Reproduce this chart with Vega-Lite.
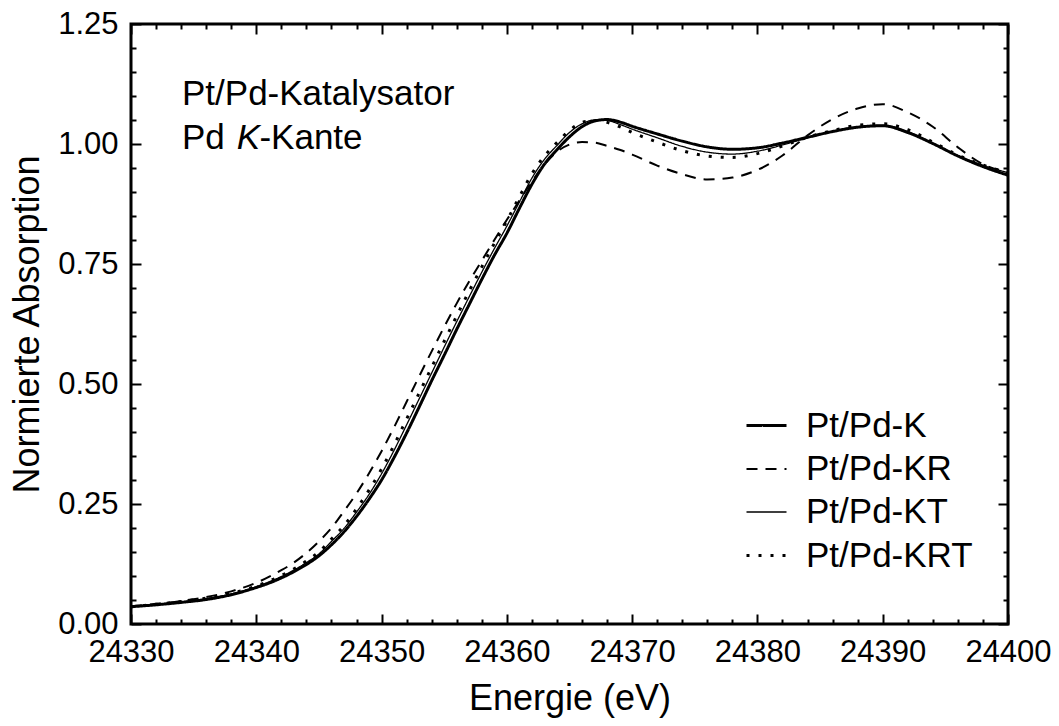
{
"$schema": "https://vega.github.io/schema/vega-lite/v6.json",
"width": 877, "height": 600,
"autosize": {"type": "none"},
"padding": {"left": 131, "top": 24, "right": 51, "bottom": 102},
"background": "white",
"config": {"view": {"stroke": "black", "strokeWidth": 3}, "font": "Liberation Sans"},
"datasets": {
"curves": [
{"s":"Pt/Pd-K","E":24330,"A":0.036},{"s":"Pt/Pd-K","E":24332,"A":0.040},{"s":"Pt/Pd-K","E":24334,"A":0.045},{"s":"Pt/Pd-K","E":24336,"A":0.051},{"s":"Pt/Pd-K","E":24338,"A":0.061},{"s":"Pt/Pd-K","E":24340,"A":0.076},{"s":"Pt/Pd-K","E":24341,"A":0.085},{"s":"Pt/Pd-K","E":24342,"A":0.096},{"s":"Pt/Pd-K","E":24343,"A":0.109},{"s":"Pt/Pd-K","E":24344,"A":0.124},{"s":"Pt/Pd-K","E":24345,"A":0.142},{"s":"Pt/Pd-K","E":24346,"A":0.165},{"s":"Pt/Pd-K","E":24347,"A":0.192},{"s":"Pt/Pd-K","E":24348,"A":0.224},{"s":"Pt/Pd-K","E":24349,"A":0.260},{"s":"Pt/Pd-K","E":24350,"A":0.300},{"s":"Pt/Pd-K","E":24351,"A":0.347},{"s":"Pt/Pd-K","E":24352,"A":0.398},{"s":"Pt/Pd-K","E":24353,"A":0.452},{"s":"Pt/Pd-K","E":24354,"A":0.507},{"s":"Pt/Pd-K","E":24355,"A":0.560},{"s":"Pt/Pd-K","E":24356,"A":0.614},{"s":"Pt/Pd-K","E":24357,"A":0.666},{"s":"Pt/Pd-K","E":24358,"A":0.718},{"s":"Pt/Pd-K","E":24359,"A":0.768},{"s":"Pt/Pd-K","E":24360,"A":0.814},{"s":"Pt/Pd-K","E":24361,"A":0.866},{"s":"Pt/Pd-K","E":24362,"A":0.916},{"s":"Pt/Pd-K","E":24363,"A":0.958},{"s":"Pt/Pd-K","E":24364,"A":0.988},{"s":"Pt/Pd-K","E":24365,"A":1.015},{"s":"Pt/Pd-K","E":24366,"A":1.036},{"s":"Pt/Pd-K","E":24367,"A":1.048},{"s":"Pt/Pd-K","E":24368,"A":1.051},{"s":"Pt/Pd-K","E":24369,"A":1.046},{"s":"Pt/Pd-K","E":24370,"A":1.037},{"s":"Pt/Pd-K","E":24372,"A":1.021},{"s":"Pt/Pd-K","E":24374,"A":1.006},{"s":"Pt/Pd-K","E":24376,"A":0.994},{"s":"Pt/Pd-K","E":24378,"A":0.989},{"s":"Pt/Pd-K","E":24380,"A":0.992},{"s":"Pt/Pd-K","E":24382,"A":1.002},{"s":"Pt/Pd-K","E":24384,"A":1.014},{"s":"Pt/Pd-K","E":24386,"A":1.026},{"s":"Pt/Pd-K","E":24388,"A":1.035},{"s":"Pt/Pd-K","E":24390,"A":1.038},{"s":"Pt/Pd-K","E":24392,"A":1.024},{"s":"Pt/Pd-K","E":24394,"A":1.001},{"s":"Pt/Pd-K","E":24396,"A":0.975},{"s":"Pt/Pd-K","E":24398,"A":0.953},{"s":"Pt/Pd-K","E":24400,"A":0.935},
{"s":"Pt/Pd-KR","E":24330,"A":0.037},{"s":"Pt/Pd-KR","E":24332,"A":0.042},{"s":"Pt/Pd-KR","E":24334,"A":0.048},{"s":"Pt/Pd-KR","E":24336,"A":0.056},{"s":"Pt/Pd-KR","E":24338,"A":0.068},{"s":"Pt/Pd-KR","E":24340,"A":0.086},{"s":"Pt/Pd-KR","E":24341,"A":0.098},{"s":"Pt/Pd-KR","E":24342,"A":0.112},{"s":"Pt/Pd-KR","E":24343,"A":0.128},{"s":"Pt/Pd-KR","E":24344,"A":0.148},{"s":"Pt/Pd-KR","E":24345,"A":0.172},{"s":"Pt/Pd-KR","E":24346,"A":0.200},{"s":"Pt/Pd-KR","E":24347,"A":0.235},{"s":"Pt/Pd-KR","E":24348,"A":0.272},{"s":"Pt/Pd-KR","E":24349,"A":0.314},{"s":"Pt/Pd-KR","E":24350,"A":0.360},{"s":"Pt/Pd-KR","E":24351,"A":0.410},{"s":"Pt/Pd-KR","E":24352,"A":0.463},{"s":"Pt/Pd-KR","E":24353,"A":0.516},{"s":"Pt/Pd-KR","E":24354,"A":0.568},{"s":"Pt/Pd-KR","E":24355,"A":0.619},{"s":"Pt/Pd-KR","E":24356,"A":0.668},{"s":"Pt/Pd-KR","E":24357,"A":0.714},{"s":"Pt/Pd-KR","E":24358,"A":0.757},{"s":"Pt/Pd-KR","E":24359,"A":0.800},{"s":"Pt/Pd-KR","E":24360,"A":0.842},{"s":"Pt/Pd-KR","E":24361,"A":0.882},{"s":"Pt/Pd-KR","E":24362,"A":0.922},{"s":"Pt/Pd-KR","E":24363,"A":0.957},{"s":"Pt/Pd-KR","E":24364,"A":0.984},{"s":"Pt/Pd-KR","E":24365,"A":0.999},{"s":"Pt/Pd-KR","E":24366,"A":1.004},{"s":"Pt/Pd-KR","E":24367,"A":1.003},{"s":"Pt/Pd-KR","E":24368,"A":0.996},{"s":"Pt/Pd-KR","E":24369,"A":0.988},{"s":"Pt/Pd-KR","E":24370,"A":0.978},{"s":"Pt/Pd-KR","E":24372,"A":0.955},{"s":"Pt/Pd-KR","E":24374,"A":0.937},{"s":"Pt/Pd-KR","E":24376,"A":0.926},{"s":"Pt/Pd-KR","E":24378,"A":0.930},{"s":"Pt/Pd-KR","E":24380,"A":0.946},{"s":"Pt/Pd-KR","E":24382,"A":0.976},{"s":"Pt/Pd-KR","E":24384,"A":1.018},{"s":"Pt/Pd-KR","E":24386,"A":1.052},{"s":"Pt/Pd-KR","E":24388,"A":1.074},{"s":"Pt/Pd-KR","E":24390,"A":1.083},{"s":"Pt/Pd-KR","E":24392,"A":1.066},{"s":"Pt/Pd-KR","E":24394,"A":1.036},{"s":"Pt/Pd-KR","E":24396,"A":0.993},{"s":"Pt/Pd-KR","E":24398,"A":0.958},{"s":"Pt/Pd-KR","E":24400,"A":0.942},
{"s":"Pt/Pd-KT","E":24330,"A":0.036},{"s":"Pt/Pd-KT","E":24332,"A":0.041},{"s":"Pt/Pd-KT","E":24334,"A":0.046},{"s":"Pt/Pd-KT","E":24336,"A":0.053},{"s":"Pt/Pd-KT","E":24338,"A":0.063},{"s":"Pt/Pd-KT","E":24340,"A":0.078},{"s":"Pt/Pd-KT","E":24342,"A":0.099},{"s":"Pt/Pd-KT","E":24344,"A":0.128},{"s":"Pt/Pd-KT","E":24345,"A":0.146},{"s":"Pt/Pd-KT","E":24346,"A":0.172},{"s":"Pt/Pd-KT","E":24347,"A":0.199},{"s":"Pt/Pd-KT","E":24348,"A":0.233},{"s":"Pt/Pd-KT","E":24349,"A":0.270},{"s":"Pt/Pd-KT","E":24350,"A":0.313},{"s":"Pt/Pd-KT","E":24351,"A":0.362},{"s":"Pt/Pd-KT","E":24352,"A":0.415},{"s":"Pt/Pd-KT","E":24353,"A":0.469},{"s":"Pt/Pd-KT","E":24354,"A":0.523},{"s":"Pt/Pd-KT","E":24355,"A":0.577},{"s":"Pt/Pd-KT","E":24356,"A":0.630},{"s":"Pt/Pd-KT","E":24357,"A":0.682},{"s":"Pt/Pd-KT","E":24358,"A":0.733},{"s":"Pt/Pd-KT","E":24359,"A":0.782},{"s":"Pt/Pd-KT","E":24360,"A":0.829},{"s":"Pt/Pd-KT","E":24361,"A":0.879},{"s":"Pt/Pd-KT","E":24362,"A":0.929},{"s":"Pt/Pd-KT","E":24363,"A":0.968},{"s":"Pt/Pd-KT","E":24364,"A":0.997},{"s":"Pt/Pd-KT","E":24365,"A":1.024},{"s":"Pt/Pd-KT","E":24366,"A":1.042},{"s":"Pt/Pd-KT","E":24367,"A":1.050},{"s":"Pt/Pd-KT","E":24368,"A":1.049},{"s":"Pt/Pd-KT","E":24369,"A":1.041},{"s":"Pt/Pd-KT","E":24370,"A":1.031},{"s":"Pt/Pd-KT","E":24372,"A":1.013},{"s":"Pt/Pd-KT","E":24374,"A":0.995},{"s":"Pt/Pd-KT","E":24376,"A":0.983},{"s":"Pt/Pd-KT","E":24378,"A":0.979},{"s":"Pt/Pd-KT","E":24380,"A":0.985},{"s":"Pt/Pd-KT","E":24382,"A":0.998},{"s":"Pt/Pd-KT","E":24384,"A":1.013},{"s":"Pt/Pd-KT","E":24386,"A":1.026},{"s":"Pt/Pd-KT","E":24388,"A":1.036},{"s":"Pt/Pd-KT","E":24390,"A":1.039},{"s":"Pt/Pd-KT","E":24392,"A":1.026},{"s":"Pt/Pd-KT","E":24394,"A":1.001},{"s":"Pt/Pd-KT","E":24396,"A":0.976},{"s":"Pt/Pd-KT","E":24398,"A":0.956},{"s":"Pt/Pd-KT","E":24400,"A":0.940},
{"s":"Pt/Pd-KRT","E":24330,"A":0.036},{"s":"Pt/Pd-KRT","E":24332,"A":0.041},{"s":"Pt/Pd-KRT","E":24334,"A":0.047},{"s":"Pt/Pd-KRT","E":24336,"A":0.054},{"s":"Pt/Pd-KRT","E":24338,"A":0.064},{"s":"Pt/Pd-KRT","E":24340,"A":0.079},{"s":"Pt/Pd-KRT","E":24342,"A":0.101},{"s":"Pt/Pd-KRT","E":24344,"A":0.131},{"s":"Pt/Pd-KRT","E":24345,"A":0.150},{"s":"Pt/Pd-KRT","E":24346,"A":0.177},{"s":"Pt/Pd-KRT","E":24347,"A":0.205},{"s":"Pt/Pd-KRT","E":24348,"A":0.240},{"s":"Pt/Pd-KRT","E":24349,"A":0.279},{"s":"Pt/Pd-KRT","E":24350,"A":0.323},{"s":"Pt/Pd-KRT","E":24351,"A":0.373},{"s":"Pt/Pd-KRT","E":24352,"A":0.427},{"s":"Pt/Pd-KRT","E":24353,"A":0.481},{"s":"Pt/Pd-KRT","E":24354,"A":0.535},{"s":"Pt/Pd-KRT","E":24355,"A":0.589},{"s":"Pt/Pd-KRT","E":24356,"A":0.642},{"s":"Pt/Pd-KRT","E":24357,"A":0.694},{"s":"Pt/Pd-KRT","E":24358,"A":0.744},{"s":"Pt/Pd-KRT","E":24359,"A":0.793},{"s":"Pt/Pd-KRT","E":24360,"A":0.840},{"s":"Pt/Pd-KRT","E":24361,"A":0.890},{"s":"Pt/Pd-KRT","E":24362,"A":0.938},{"s":"Pt/Pd-KRT","E":24363,"A":0.975},{"s":"Pt/Pd-KRT","E":24364,"A":1.003},{"s":"Pt/Pd-KRT","E":24365,"A":1.028},{"s":"Pt/Pd-KRT","E":24366,"A":1.045},{"s":"Pt/Pd-KRT","E":24367,"A":1.049},{"s":"Pt/Pd-KRT","E":24368,"A":1.045},{"s":"Pt/Pd-KRT","E":24369,"A":1.036},{"s":"Pt/Pd-KRT","E":24370,"A":1.024},{"s":"Pt/Pd-KRT","E":24372,"A":1.004},{"s":"Pt/Pd-KRT","E":24374,"A":0.986},{"s":"Pt/Pd-KRT","E":24376,"A":0.975},{"s":"Pt/Pd-KRT","E":24378,"A":0.972},{"s":"Pt/Pd-KRT","E":24380,"A":0.980},{"s":"Pt/Pd-KRT","E":24382,"A":0.996},{"s":"Pt/Pd-KRT","E":24384,"A":1.014},{"s":"Pt/Pd-KRT","E":24386,"A":1.028},{"s":"Pt/Pd-KRT","E":24388,"A":1.039},{"s":"Pt/Pd-KRT","E":24390,"A":1.042},{"s":"Pt/Pd-KRT","E":24392,"A":1.030},{"s":"Pt/Pd-KRT","E":24394,"A":1.004},{"s":"Pt/Pd-KRT","E":24396,"A":0.977},{"s":"Pt/Pd-KRT","E":24398,"A":0.956},{"s":"Pt/Pd-KRT","E":24400,"A":0.940}
],
"notes": [
{"E":24334.07,"A":1.081,"t":"Pt/Pd-Katalysator"},
{"E":24334.07,"A":0.990,"t":"Pd"},
{"E":24340.25,"A":0.990,"t":"-Kante"}
],
"notesItalic": [
{"E":24338.45,"A":0.990,"t":"K"}
]
},
"layer": [
{
"data": {"name": "curves"},
"mark": {"type": "line", "interpolate": "monotone", "color": "black"},
"encoding": {
"x": {"field": "E", "type": "quantitative",
 "scale": {"domain": [24330, 24400], "nice": false, "zero": false},
 "axis": {"orient": "bottom", "values": [24330,24332,24334,24336,24338,24340,24342,24344,24346,24348,24350,24352,24354,24356,24358,24360,24362,24364,24366,24368,24370,24372,24374,24376,24378,24380,24382,24384,24386,24388,24390,24392,24394,24396,24398,24400],
  "format": "d", "labelExpr": "datum.value % 10 === 0 ? datum.label : ''",
  "tickSize": {"condition": {"test": "datum.value % 10 === 0", "value": -10}, "value": -5},
  "tickColor": "black", "tickWidth": 2, "domain": false, "grid": false,
  "labelFontSize": 31, "labelColor": "black", "labelPadding": 23, "labelOverlap": false, "labelFlush": false, "labelFont": "Liberation Sans",
  "title": "Energie (eV)", "titleFontSize": 36, "titleFontWeight": "normal", "titleColor": "black", "titlePadding": 9, "titleFont": "Liberation Sans"}},
"y": {"field": "A", "type": "quantitative",
 "scale": {"domain": [0, 1.25], "nice": false},
 "axis": {"orient": "left", "values": [0,0.05,0.1,0.15,0.2,0.25,0.3,0.35,0.4,0.45,0.5,0.55,0.6,0.65,0.7,0.75,0.8,0.85,0.9,0.95,1,1.05,1.1,1.15,1.2,1.25],
  "labelExpr": "round(datum.value*100) % 25 === 0 ? format(datum.value, '.2f') : ''",
  "tickSize": {"condition": {"test": "round(datum.value*100) % 25 === 0", "value": -10}, "value": -5},
  "tickColor": "black", "tickWidth": 2, "domain": false, "grid": false,
  "labelFontSize": 31, "labelColor": "black", "labelPadding": 23, "labelOverlap": false, "labelFlush": false, "labelFont": "Liberation Sans",
  "title": "Normierte Absorption", "titleFontSize": 36, "titleFontWeight": "normal", "titleColor": "black", "titlePadding": 11, "titleFont": "Liberation Sans"}},
"strokeDash": {"field": "s", "type": "nominal",
 "scale": {"domain": ["Pt/Pd-K","Pt/Pd-KR","Pt/Pd-KT","Pt/Pd-KRT"], "range": [[1,0],[11,8],[1,0],[3,9]]},
 "legend": {"orient": "none", "legendX": 614, "legendY": 380, "title": null, "symbolType": "stroke", "symbolSize": 1600, "symbolStrokeColor": "black", "labelFontSize": 35, "labelColor": "black", "labelOffset": 18, "labelLimit": 0, "rowPadding": 4, "padding": 0, "labelFont": "Liberation Sans"}},
"strokeWidth": {"field": "s", "type": "nominal",
 "scale": {"type": "ordinal", "domain": ["Pt/Pd-K","Pt/Pd-KR","Pt/Pd-KT","Pt/Pd-KRT"], "range": [3, 2, 1.3, 3]},
 "legend": {"orient": "none", "legendX": 614, "legendY": 380, "title": null, "symbolType": "stroke", "symbolSize": 1600, "symbolStrokeColor": "black", "labelFontSize": 35, "labelColor": "black", "labelOffset": 18, "labelLimit": 0, "rowPadding": 4, "padding": 0, "labelFont": "Liberation Sans"}}
}
},
{
"data": {"name": "curves"},
"mark": {"type": "point", "opacity": 0},
"encoding": {
"x": {"field": "E", "type": "quantitative",
 "scale": {"domain": [24330, 24400], "nice": false, "zero": false},
 "axis": {"orient": "top", "values": [24330,24332,24334,24336,24338,24340,24342,24344,24346,24348,24350,24352,24354,24356,24358,24360,24362,24364,24366,24368,24370,24372,24374,24376,24378,24380,24382,24384,24386,24388,24390,24392,24394,24396,24398,24400],
  "labels": false, "title": null, "domain": false, "grid": false,
  "tickSize": {"condition": {"test": "datum.value % 10 === 0", "value": -10}, "value": -5},
  "tickColor": "black", "tickWidth": 2}},
"y": {"field": "A", "type": "quantitative",
 "scale": {"domain": [0, 1.25], "nice": false},
 "axis": {"orient": "right", "values": [0,0.05,0.1,0.15,0.2,0.25,0.3,0.35,0.4,0.45,0.5,0.55,0.6,0.65,0.7,0.75,0.8,0.85,0.9,0.95,1,1.05,1.1,1.15,1.2,1.25],
  "labels": false, "title": null, "domain": false, "grid": false,
  "tickSize": {"condition": {"test": "round(datum.value*100) % 25 === 0", "value": -10}, "value": -5},
  "tickColor": "black", "tickWidth": 2}}
}
},
{
"data": {"name": "notes"},
"mark": {"type": "text", "align": "left", "baseline": "alphabetic", "fontSize": 35, "font": "Liberation Sans", "color": "black"},
"encoding": {
"x": {"field": "E", "type": "quantitative", "scale": {"domain": [24330, 24400], "nice": false, "zero": false}, "axis": null},
"y": {"field": "A", "type": "quantitative", "scale": {"domain": [0, 1.25], "nice": false}, "axis": null},
"text": {"field": "t"}
}
},
{
"data": {"name": "notesItalic"},
"mark": {"type": "text", "align": "left", "baseline": "alphabetic", "fontSize": 35, "font": "Liberation Sans", "fontStyle": "italic", "color": "black"},
"encoding": {
"x": {"field": "E", "type": "quantitative", "scale": {"domain": [24330, 24400], "nice": false, "zero": false}, "axis": null},
"y": {"field": "A", "type": "quantitative", "scale": {"domain": [0, 1.25], "nice": false}, "axis": null},
"text": {"field": "t"}
}
}
],
"resolve": {"axis": {"x": "independent", "y": "independent"}}
}
